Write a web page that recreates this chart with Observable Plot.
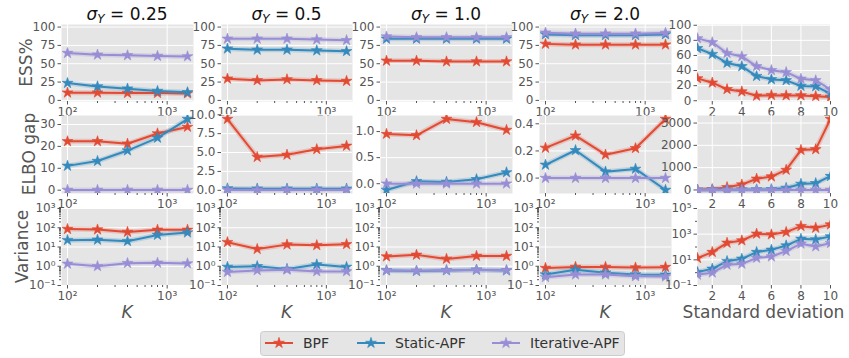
<!DOCTYPE html>
<html><head><meta charset="utf-8">
<script src="https://cdn.jsdelivr.net/npm/d3@7"></script>
<script src="https://cdn.jsdelivr.net/npm/@observablehq/plot@0.6"></script>
<style>
body{margin:0;background:#fff;font-family:"DejaVu Sans",sans-serif;}
#fig{position:relative;width:849px;height:358px;overflow:hidden;background:#fff;}
#fig svg{position:absolute;background:none;overflow:visible;}
</style></head><body><div id="fig"></div>
<script>
// ---------------- data ----------------
const K = [100, 200, 400, 800, 1600];
const SD = [1, 2, 3, 4, 5, 6, 7, 8, 9, 10];
const sigmaLabels = ["0.25", "0.5", "1.0", "2.0"];
const seriesNames = ["BPF", "Static-APF", "Iterative-APF"];
const seriesColors = ["#E24A33", "#348ABD", "#988ED5"];

// ESS% (one array per sigma_Y column; values over K)
const essBPF    = [[10.5,10.5,10,10,9.5],[29.5,27.3,28.6,27.3,26.4],[54,54,53,53,53],[77,76,76,76,76]];
const essStatic = [[23.6,19,16,12.7,11],[70.5,69,69,68,67],[84,84,84,84,84],[90,89,89,89,90]];
const essIter   = [[64.5,62.3,61.4,60.5,60],[84,84,84,83,82],[87,86,86,86,86],[92.3,91,91,91,92]];
const essSdBPF    = [29.6,23.9,15.2,12.2,6.5,7.4,7,7,6,5];
const essSdStatic = [69.5,61.7,50,45.6,32.6,28.3,27,19.6,19,9.5];
const essSdIter   = [82.6,77.4,63,58.7,45.6,40.4,37.8,29,27,15];

// ELBO gap
const elboBPF    = [[22.3,22.3,21.2,25.9,28.9],[9.43,4.4,4.7,5.43,5.88],[0.954,0.928,1.24,1.18,1.03],[0.2225,0.3125,0.1725,0.22,0.435]];
const elboStatic = [[11.1,13.3,18.1,23.9,32.5],[0.25,0.22,0.22,0.22,0.22],[-0.12,0.046,0.033,0.085,0.216],[0.0975,0.205,0.0475,0.0675,-0.0875]];
const elboIter   = [[0.1,0.1,0.1,0.1,0.1],[0.05,0.05,0.05,0.05,0.05],[0,0,0,0,0],[0,0,0,0,0]];
const elboSdBPF    = [5,30,120,240,500,600,900,1790,1820,3180];
const elboSdStatic = [0,5,10,15,20,30,90,270,300,620];
const elboSdIter   = [2,2,2,2,2,2,2,2,2,2];

// Variance
const varBPF    = [[85,80,60,78,78],[17.8,7.8,13.3,12.3,13.9],[3.2,3.9,2.4,3.4,3.4],[0.81,0.92,0.92,0.85,0.9]];
const varStatic = [[22.7,23.6,20,42,56],[0.92,1.0,0.72,1.23,0.92],[0.61,0.56,0.61,0.66,0.6],[0.37,0.66,0.46,0.37,0.36]];
const varIter   = [[1.33,1.0,1.45,1.5,1.39],[0.5,0.61,0.66,0.54,0.54],[0.6,0.58,0.62,0.64,0.62],[0.27,0.37,0.37,0.30,0.29]];
const varSdBPF    = [13.5,40,210,320,1070,940,1450,4200,3100,5600];
const varSdStatic = [1.1,2.0,7.9,12,40,60,130,430,385,660];
const varSdIter   = [0.68,1.0,4.1,4.9,14,18,48,180,110,200];

// tick labels
const kTicks = [100, 1000];
const kTickLabels = ["10²", "10³"];
const sdTicks = [2, 4, 6, 8, 10];
const logTickLabels = {0.1: "10⁻¹", 1: "10⁰", 10: "10¹", 100: "10²", 1000: "10³", 100000: "10⁵"};

// ---------------- layout ----------------
const fig = document.getElementById("fig");
const colX = [61, 221, 380, 539, 697];
const colW = [132, 131, 132, 132, 133];
const rowY = [24, 115, 208];
const rowH = [77, 78, 77];
const ML = 46, MR = 14, MT = 10, MB = 24;
const GREY = "#555555";
const TICK_FS = 12;

function toRows(xs, arrs) {
  const out = [];
  arrs.forEach((a, i) => a.forEach((v, j) => out.push({x: xs[j], y: v, s: seriesNames[i]})));
  return out;
}
function padExtent(vals) {
  const [a, b] = d3.extent(vals);
  const d = (b - a) * 0.05;
  return [a - d, b + d];
}

function panel(r, c, arrs, yCfg) {
  const sd = c === 4;
  const xs = sd ? SD : K;
  const data = toRows(xs, arrs);
  const xScale = sd
    ? {type: "linear", domain: [1, 10], label: null}
    : {type: "log", domain: [Math.pow(10, 1.9398), Math.pow(10, 3.2643)], label: null};
  const xTicks = sd ? sdTicks : kTicks;
  const xFmt = sd ? (d => String(d)) : (d => kTickLabels[kTicks.indexOf(d)]);
  const yDomain = yCfg.domain || padExtent(data.map(d => d.y));
  const yScale = {type: yCfg.type || "linear", domain: yDomain, label: null};
  const marks = [
    Plot.frame({fill: "#E5E5E5", stroke: "none"}),
    Plot.gridX(xTicks, {stroke: "white", strokeOpacity: 1, strokeWidth: 1}),
    Plot.gridY(yCfg.ticks, {stroke: "white", strokeOpacity: 1, strokeWidth: 1}),
    Plot.axisX(xTicks, {tickFormat: xFmt, tickSize: 3.5, tickPadding: 2, stroke: GREY, fill: GREY, fontSize: TICK_FS, label: null}),
    Plot.axisY(yCfg.ticks, {tickFormat: yCfg.format, tickSize: 3.5, tickPadding: 2.5, stroke: GREY, fill: GREY, fontSize: TICK_FS, label: null})
  ];
  if (!sd) {
    marks.push(Plot.axisX([200,300,400,500,600,700,800,900], {tickFormat: () => "", tickSize: 2, stroke: GREY, label: null}));
  }
  if (yCfg.minor) {
    marks.push(Plot.axisY(yCfg.minor, {tickFormat: () => "", tickSize: 2, stroke: GREY, label: null}));
  }
  seriesNames.forEach((s, i) => {
    const sub = data.filter(d => d.s === s);
    marks.push(Plot.line(sub, {x: "x", y: "y", stroke: seriesColors[i], strokeWidth: 5, strokeOpacity: 0.22, clip: true}));
    marks.push(Plot.line(sub, {x: "x", y: "y", stroke: seriesColors[i], strokeWidth: 2, clip: true}));
    marks.push(Plot.dot(sub, {x: "x", y: "y", symbol: "star", r: 3.4, fill: seriesColors[i], stroke: seriesColors[i], strokeWidth: 0.6, clip: true}));
  });
  const svg = Plot.plot({
    width: colW[c] + ML + MR,
    height: rowH[r] + MT + MB,
    marginLeft: ML, marginRight: MR, marginTop: MT, marginBottom: MB,
    x: xScale, y: yScale,
    style: {fontFamily: "DejaVu Sans", fontSize: "12px", background: "none", overflow: "visible"},
    marks
  });
  svg.style.left = (colX[c] - ML) + "px";
  svg.style.top = (rowY[r] - MT) + "px";
  fig.appendChild(svg);
}

const minorLog = [];
[0.1, 1, 10, 100].forEach(b => { for (let m = 2; m <= 9; m++) minorLog.push(b * m); });
const fmtFixed1 = d3.format(".1f");

for (let c = 0; c < 5; c++) {
  const sd = c === 4;
  // ESS
  panel(0, c, sd ? [essSdBPF, essSdStatic, essSdIter] : [essBPF[c], essStatic[c], essIter[c]],
    sd ? {domain: [-1, 101], ticks: [0,20,40,60,80,100], format: d => String(d)}
       : {domain: [-1.5, 103.5], ticks: [0,25,50,75,100], format: d => String(d)});
  // ELBO
  const elboTicks = [[0,10,20,30],[0,2.5,5,7.5,10],[0,0.5,1],[0,0.2,0.4],[0,1000,2000,3000]][c];
  const elboFmt = (c === 0 || c === 4) ? (d => String(d)) : fmtFixed1;
  panel(1, c, sd ? [elboSdBPF, elboSdStatic, elboSdIter] : [elboBPF[c], elboStatic[c], elboIter[c]],
    {ticks: elboTicks, format: elboFmt});
  // Variance
  panel(2, c, sd ? [varSdBPF, varSdStatic, varSdIter] : [varBPF[c], varStatic[c], varIter[c]],
    sd ? {type: "log", domain: [0.1, 1e5], ticks: [0.1, 10, 1000, 1e5], format: d => logTickLabels[d], minor: [1, 100, 10000]}
       : {type: "log", domain: [0.1, 1000], ticks: [0.1, 1, 10, 100, 1000], format: d => logTickLabels[d], minor: minorLog});
}

// ---------------- text overlay & legend ----------------
const NS = "http://www.w3.org/2000/svg";
const ov = document.createElementNS(NS, "svg");
ov.setAttribute("width", 849); ov.setAttribute("height", 358);
ov.style.left = "0px"; ov.style.top = "0px";
ov.setAttribute("font-family", "DejaVu Sans");
fig.appendChild(ov);
function el(tag, attrs, parent = ov) {
  const e = document.createElementNS(NS, tag);
  for (const k in attrs) e.setAttribute(k, attrs[k]);
  parent.appendChild(e);
  return e;
}
function tspan(parent, text, attrs = {}) {
  const t = el("tspan", attrs, parent); t.textContent = text; return t;
}
// column titles
sigmaLabels.forEach((lab, c) => {
  const t = el("text", {x: colX[c] + colW[c] / 2, y: 19.5, "text-anchor": "middle", "font-size": 17, fill: "#111"});
  tspan(t, "σ", {"font-style": "italic"});
  tspan(t, "Y", {"font-style": "italic", "font-size": 12, dy: 3});
  tspan(t, " = " + lab, {dy: -3});
});
// y labels
const yLabels = [["ESS%", 32, rowY[0] + rowH[0] / 2], ["ELBO gap", 35, rowY[1] + rowH[1] / 2], ["Variance", 28, rowY[2] + rowH[2] / 2]];
yLabels.forEach(([lab, bx, cy]) => {
  const t = el("text", {transform: `translate(${bx},${cy}) rotate(-90)`, "text-anchor": "middle", "font-size": 17, fill: GREY});
  t.textContent = lab;
});
// x labels
for (let c = 0; c < 4; c++) {
  const t = el("text", {x: colX[c] + colW[c] / 2, y: 317.5, "text-anchor": "middle", "font-size": 17, "font-style": "italic", fill: GREY});
  t.textContent = "K";
}
{
  const t = el("text", {x: colX[4] + colW[4] / 2, y: 317.5, "text-anchor": "middle", "font-size": 17, fill: GREY});
  t.textContent = "Standard deviation";
}
// legend
el("rect", {x: 260.5, y: 331.5, width: 364, height: 24, rx: 3, fill: "#E5E5E5", stroke: "#CCCCCC"});
const legendX = [265, 357, 492];
const starPath = d3.symbol(d3.symbolStar, Math.PI * 3.4 * 3.4)();
seriesNames.forEach((s, i) => {
  const x0 = legendX[i];
  el("line", {x1: x0, x2: x0 + 28, y1: 343, y2: 343, stroke: seriesColors[i], "stroke-width": 2});
  el("path", {d: starPath, transform: `translate(${x0 + 14},343)`, fill: seriesColors[i], stroke: seriesColors[i], "stroke-width": 0.6});
  const t = el("text", {x: x0 + 38, y: 348, "font-size": 14, fill: "#333"});
  t.textContent = s;
});
</script></body></html>
